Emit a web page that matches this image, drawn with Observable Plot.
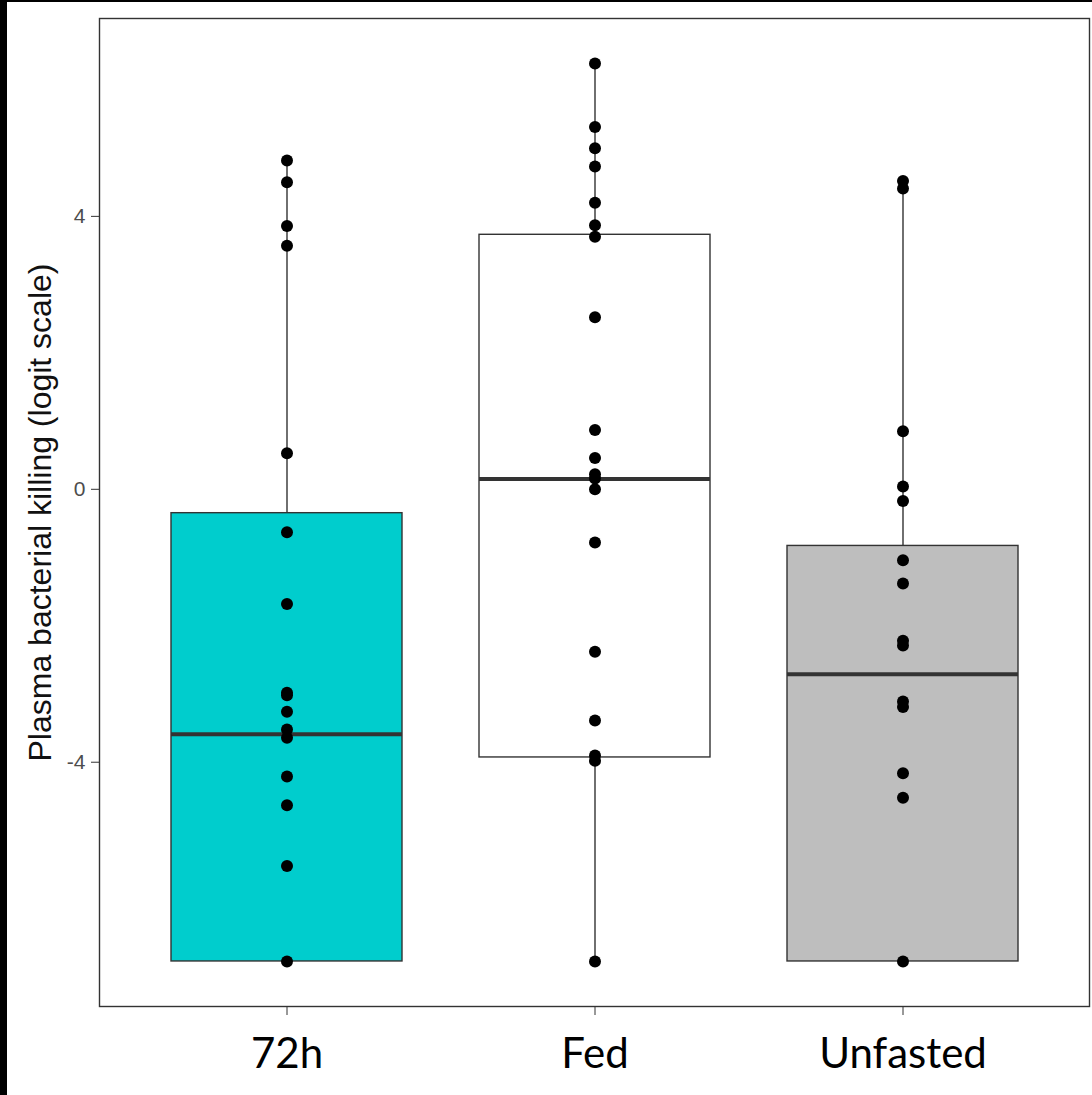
<!DOCTYPE html>
<html>
<head>
<meta charset="utf-8">
<script src="https://cdn.jsdelivr.net/npm/d3@7"></script>
<script src="https://cdn.jsdelivr.net/npm/@observablehq/plot@0.6"></script>
<style>
  html, body { margin: 0; padding: 0; background: #fff; }
  #wrap { width: 1085px; height: 1093px; border-left: 7px solid #000; border-top: 2px solid #000; background: #fff; }
  svg { display: block; }
</style>
</head>
<body>
<div id="wrap"></div>
<script>
// Categories
const groups = ["72h", "Fed", "Unfasted"];

const values72h = [4.82, 4.50, 3.86, 3.57, 0.53, -0.63, -1.68, -2.98, -3.02, -3.26, -3.52, -3.64, -4.21, -4.63, -5.52, -6.92];
const valuesFed = [6.24, 5.31, 5.00, 4.73, 4.20, 3.87, 3.70, 2.52, 0.87, 0.46, 0.22, 0.16, 0.00, -0.78, -2.38, -3.39, -3.90, -3.98, -6.92];
const valuesUnfasted = [4.52, 4.41, 0.85, 0.04, -0.17, -1.04, -1.38, -2.22, -2.29, -3.11, -3.19, -4.16, -4.52, -6.92];

// Box statistics per group
const boxQ1 = [-6.92, -3.93, -6.92];
const boxMedian = [-3.59, 0.15, -2.71];
const boxQ3 = [-0.35, 3.73, -0.83];
const whiskerLow = [-6.92, -6.92, -6.92];
const whiskerHigh = [4.82, 6.24, 4.52];

// Y tick values
const yTicks = [-4, 0, 4];
const yTitle = "Plasma bacterial killing (logit scale)";

const boxes = groups.map((g, i) => ({
  group: g, q1: boxQ1[i], median: boxMedian[i], q3: boxQ3[i], lo: whiskerLow[i], hi: whiskerHigh[i]
}));
const points = [
  ...values72h.map(v => ({group: "72h", value: v})),
  ...valuesFed.map(v => ({group: "Fed", value: v})),
  ...valuesUnfasted.map(v => ({group: "Unfasted", value: v}))
];

const gray = "#333333";

const chart = Plot.plot({
  width: 1085,
  height: 1093,
  marginLeft: 92,
  marginRight: 3,
  marginTop: 16,
  marginBottom: 89,
  style: {background: "#fff", fontFamily: "'Liberation Sans', Arial, sans-serif"},
  x: {domain: groups, paddingInner: 0.25, paddingOuter: 0.23, label: null},
  y: {domain: [-7.58, 6.9], label: null},
  color: {domain: groups, range: ["#00CDCD", "#FFFFFF", "#BEBEBE"]},
  marks: [
    Plot.ruleX(boxes, {x: "group", y1: "lo", y2: "hi", stroke: gray, strokeWidth: 1.4}),
    Plot.barY(boxes, {x: "group", y1: "q1", y2: "q3", fill: "group", stroke: gray, strokeWidth: 1.4}),
    Plot.tickY(boxes, {x: "group", y: "median", stroke: gray, strokeWidth: 4}),
    Plot.dot(points, {x: "group", y: "value", r: 6, fill: "#000", stroke: "none"}),
    Plot.frame({stroke: gray, strokeWidth: 1.4}),
    Plot.axisY({ticks: yTicks, tickSize: 8, tickPadding: 6, fontSize: 21, fill: "#4d4d4d", stroke: gray, tickFormat: d => String(d), label: null}),
    Plot.axisX({tickSize: 9, tickPadding: 23, fontSize: 42, fontFamily: "Lato, 'Open Sans', sans-serif", fill: "#000", stroke: gray, label: null}),
    Plot.text([yTitle], {frameAnchor: "left", rotate: -90, dx: -59, textAnchor: "middle", lineAnchor: "middle", fontSize: 32, fill: "#111", text: d => d})
  ]
});
document.getElementById("wrap").appendChild(chart);
</script>
</body>
</html>
